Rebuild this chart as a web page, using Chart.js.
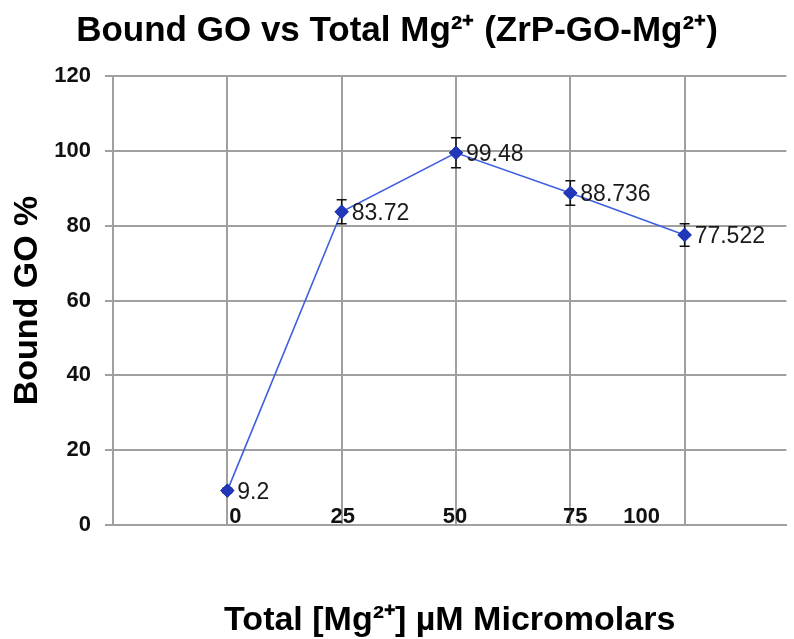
<!DOCTYPE html>
<html lang="en">
<head>
    <meta charset="UTF-8">
    <title>Bound GO vs Total Mg</title>
    <script src="https://cdn.jsdelivr.net/npm/chart.js"></script>
    <style>
        html, body { margin: 0; padding: 0; background: #fff; }
        #wrap { width: 794px; height: 639px; }
    </style>
</head>
<body>
    <div id="wrap"><canvas id="grafica"></canvas></div>
    <script>
        // datos
        const concentraciones = ['0', '25', '50', '75', '100'];
        const boundGO = [9.2, 83.72, 99.48, 88.736, 77.522];
        const errores = [0.6, 3.2, 4.0, 3.3, 3.0];
        const yTicks = [0, 20, 40, 60, 80, 100, 120];

        const grisGrid = '#a0a0a0';
        const fuenteTitulo = "'Liberation Sans', Arial, sans-serif";

        // barras de error
        const barrasError = {
            id: 'barrasError',
            afterDatasetsDraw(chart) {
                const ctx = chart.ctx;
                const y = chart.scales.y;
                const meta = chart.getDatasetMeta(0);
                ctx.save();
                ctx.strokeStyle = '#111';
                ctx.lineWidth = 1.5;
                meta.data.forEach((p, i) => {
                    const top = y.getPixelForValue(boundGO[i] + errores[i]);
                    const bot = y.getPixelForValue(boundGO[i] - errores[i]);
                    ctx.beginPath();
                    ctx.moveTo(p.x, top); ctx.lineTo(p.x, bot);
                    ctx.moveTo(p.x - 5, top); ctx.lineTo(p.x + 5, top);
                    ctx.moveTo(p.x - 5, bot); ctx.lineTo(p.x + 5, bot);
                    ctx.stroke();
                });
                // volver a pintar los marcadores encima
                meta.data.forEach(p => p.draw(ctx, chart.chartArea));
                ctx.restore();
            }
        };

        // etiquetas de datos
        const etiquetas = {
            id: 'etiquetas',
            afterDraw(chart) {
                const ctx = chart.ctx;
                const meta = chart.getDatasetMeta(0);
                ctx.save();
                ctx.font = "23px 'Liberation Sans', Arial, sans-serif";
                ctx.fillStyle = '#1a1a1a';
                ctx.textAlign = 'left';
                ctx.textBaseline = 'middle';
                meta.data.forEach((p, i) => {
                    ctx.fillText(String(boundGO[i]), p.x + 10, p.y + 2);
                });
                ctx.restore();
            }
        };

        // etiquetas del eje x, dentro del area (como en el original)
        const etiquetasX = {
            id: 'etiquetasX',
            afterDraw(chart) {
                const ctx = chart.ctx;
                const x = chart.scales.x;
                const y = chart.scales.y;
                const desplaz = [8, 1, -1, 5, -43];
                ctx.save();
                ctx.font = "bold 22px 'Liberation Sans', Arial, sans-serif";
                ctx.fillStyle = '#111';
                ctx.textAlign = 'center';
                ctx.textBaseline = 'alphabetic';
                concentraciones.forEach((c, i) => {
                    ctx.fillText(c, x.getPixelForValue(i) + desplaz[i], y.bottom - 2);
                });
                ctx.restore();
            }
        };

        const ctx = document.getElementById('grafica').getContext('2d');
        new Chart(ctx, {
            type: 'line',
            data: {
                datasets: [{
                    label: 'Bound GO %',
                    data: boundGO.map((v, i) => ({ x: i, y: v })),
                    borderColor: '#3f5fe0',
                    borderWidth: 1.6,
                    pointStyle: 'rectRot',
                    pointRadius: 6,
                    pointBackgroundColor: '#2238b8',
                    pointBorderColor: '#2238b8',
                    tension: 0
                }]
            },
            options: {
                responsive: true,
                maintainAspectRatio: false,
                animation: false,
                layout: { padding: 0 },
                plugins: {
                    legend: { display: false },
                    tooltip: { enabled: false },
                    title: {
                        display: true,
                        text: 'Bound GO vs Total Mg²⁺ (ZrP-GO-Mg²⁺)',
                        color: '#000',
                        font: { family: fuenteTitulo, size: 35, weight: 'bold', lineHeight: 1 },
                        padding: { top: 14, bottom: 27 }
                    }
                },
                scales: {
                    x: {
                        type: 'linear',
                        min: -1,
                        max: 4.89,
                        afterBuildTicks: s => { s.ticks = [-1, 0, 1, 2, 3, 4].map(v => ({ value: v })); },
                        afterFit: s => { s.height = 114; },
                        ticks: { display: false },
                        grid: { color: grisGrid, lineWidth: 2, drawTicks: false },
                        border: { color: grisGrid, width: 2 },
                        title: {
                            display: true,
                            text: 'Total [Mg²⁺] µM Micromolars',
                            color: '#000',
                            font: { family: fuenteTitulo, size: 34, weight: 'bold', lineHeight: 1 },
                            padding: { top: 0, bottom: 1 }
                        }
                    },
                    y: {
                        min: 0,
                        max: 120,
                        afterBuildTicks: s => { s.ticks = yTicks.map(v => ({ value: v })); },
                        afterFit: s => { s.width = 113; },
                        ticks: {
                            color: '#111',
                            padding: 14,
                            font: { family: "'Liberation Sans', Arial, sans-serif", size: 22, weight: 'bold' }
                        },
                        grid: { color: grisGrid, lineWidth: 2, tickLength: 8 },
                        border: { color: grisGrid, width: 2 },
                        title: {
                            display: true,
                            text: 'Bound GO %',
                            color: '#000',
                            font: { family: fuenteTitulo, size: 34, weight: 'bold', lineHeight: 1 },
                            padding: { top: 11, bottom: 0 }
                        }
                    }
                }
            },
            plugins: [barrasError, etiquetas, etiquetasX]
        });
    </script>
</body>
</html>
